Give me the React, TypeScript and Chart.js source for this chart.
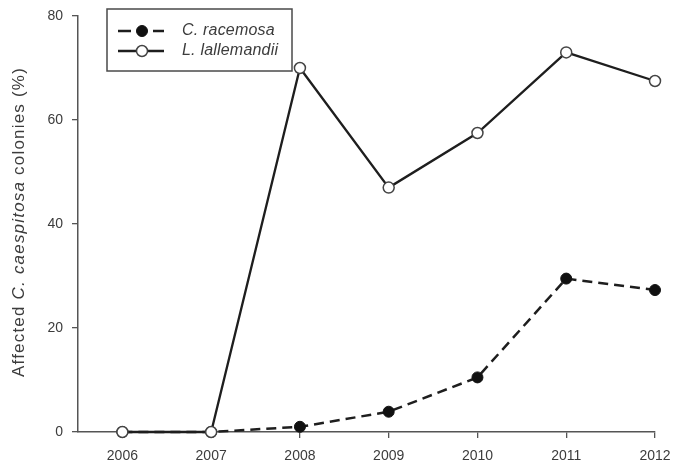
import React, { useEffect, useRef } from "react";
import { Chart, registerables } from "chart.js";

Chart.register(...registerables);

const years = [2006, 2007, 2008, 2009, 2010, 2011, 2012];
const racemosa = [0, 0, 1.0, 3.9, 10.5, 29.5, 27.3];
const lallemandii = [0, 0, 70, 47, 57.5, 73, 67.5];
const seriesNames = ["C. racemosa", "L. lallemandii"];
const yTicks = [0, 20, 40, 60, 80];
const yTitleParts = [
  { text: "Affected ", italic: false },
  { text: "C. caespitosa", italic: true },
  { text: " colonies (%)", italic: false },
];

const FONT = "'Liberation Sans', Arial, sans-serif";
const INK = "#1e1e1e";
const TEXT = "#3c3c3c";

const decorPlugin = {
  id: "decor",
  afterDraw(chart: any) {
    const ctx = chart.ctx;
    // y-axis title with mixed italic
    ctx.save();
    const cy = 222;
    ctx.translate(19, cy);
    ctx.rotate(-Math.PI / 2);
    ctx.fillStyle = TEXT;
    ctx.textBaseline = "middle";
    ctx.textAlign = "left";
    (ctx as any).letterSpacing = "1.2px";
    const fonts = yTitleParts.map((p) => (p.italic ? "italic " : "") + "17px " + FONT);
    let total = 0;
    yTitleParts.forEach((p, i) => {
      ctx.font = fonts[i];
      total += ctx.measureText(p.text).width;
    });
    let x = -total / 2;
    yTitleParts.forEach((p, i) => {
      ctx.font = fonts[i];
      ctx.fillText(p.text, x, 0);
      x += ctx.measureText(p.text).width;
    });
    ctx.restore();

    // legend box
    ctx.save();
    ctx.strokeStyle = "#4a4a4a";
    ctx.lineWidth = 1.5;
    ctx.strokeRect(107, 9, 185, 62);
    const rows = [31, 51];
    chart.data.datasets.forEach((ds: any, i: number) => {
      const y = rows[i];
      ctx.strokeStyle = ds.borderColor;
      ctx.lineWidth = ds.borderWidth;
      ctx.beginPath();
      if (ds.borderDash && ds.borderDash.length) {
        ctx.moveTo(118, y);
        ctx.lineTo(131, y);
        ctx.moveTo(153, y);
        ctx.lineTo(164, y);
      } else {
        ctx.moveTo(118, y);
        ctx.lineTo(164, y);
      }
      ctx.stroke();
      ctx.beginPath();
      ctx.arc(142, y, ds.pointRadius, 0, Math.PI * 2);
      ctx.fillStyle = ds.pointBackgroundColor;
      ctx.fill();
      ctx.lineWidth = ds.pointBorderWidth;
      ctx.strokeStyle = ds.pointBorderColor;
      ctx.stroke();
      ctx.fillStyle = TEXT;
      ctx.font = "italic 16px " + FONT;
      (ctx as any).letterSpacing = "0.2px";
      ctx.textBaseline = "middle";
      ctx.textAlign = "left";
      ctx.fillText(seriesNames[i], 182, y);
    });
    ctx.restore();
  },
};

export default function App() {
  const ref = useRef<HTMLCanvasElement>(null);
  useEffect(() => {
    if (!ref.current) return;
    const chart = new Chart(ref.current, {
      type: "line",
      data: {
        datasets: [
          {
            label: seriesNames[0],
            data: years.map((x, i) => ({ x, y: racemosa[i] })),
            borderColor: INK,
            borderWidth: 2.5,
            borderDash: [10, 6],
            pointRadius: 5.5,
            pointBackgroundColor: "#111",
            pointBorderColor: "#111",
            pointBorderWidth: 1,
            order: 1,
            clip: false,
          },
          {
            label: seriesNames[1],
            data: years.map((x, i) => ({ x, y: lallemandii[i] })),
            borderColor: INK,
            borderWidth: 2.3,
            pointRadius: 5.5,
            pointBackgroundColor: "#fff",
            pointBorderColor: "#444",
            pointBorderWidth: 1.5,
            order: 0,
            clip: false,
          },
        ],
      },
      options: {
        animation: false,
        responsive: false,
        maintainAspectRatio: false,
        layout: { autoPadding: false, padding: { left: 0, right: 20, top: 16, bottom: 0 } },
        plugins: { legend: { display: false }, tooltip: { enabled: false } },
        scales: {
          x: {
            type: "linear",
            min: 2005.5,
            max: 2012,
            afterBuildTicks: (scale: any) => {
              scale.ticks = years.map((v) => ({ value: v }));
            },
            afterFit: (scale: any) => {
              scale.height = 38;
              scale.paddingLeft = 0;
              scale.paddingRight = 0;
            },
            ticks: {
              color: TEXT,
              font: { family: FONT, size: 14 },
              padding: 10,
              maxRotation: 0,
              callback: (v: any) => String(v),
            },
            grid: {
              drawOnChartArea: false,
              drawTicks: true,
              tickLength: 6,
              color: "#555",
              lineWidth: 1.3,
            },
            border: { display: true, color: "#555", width: 1.5 },
          },
          y: {
            type: "linear",
            min: 0,
            max: 80,
            afterBuildTicks: (scale: any) => {
              scale.ticks = yTicks.map((v) => ({ value: v }));
            },
            afterFit: (scale: any) => {
              scale.width = 78;
              scale.paddingTop = 0;
              scale.paddingBottom = 0;
            },
            ticks: {
              color: TEXT,
              font: { family: FONT, size: 14 },
              padding: 9,
              callback: (v: any) => String(v),
            },
            grid: {
              drawOnChartArea: false,
              drawTicks: true,
              tickLength: 6,
              color: "#555",
              lineWidth: 1.3,
            },
            border: { display: true, color: "#555", width: 1.5 },
          },
        },
      },
      plugins: [decorPlugin],
    } as any);
    return () => chart.destroy();
  }, []);
  return (
    <div style={{ position: "fixed", left: 0, top: 0, width: 675, height: 470, background: "#fff" }}>
      <canvas ref={ref} width={675} height={470} style={{ width: 675, height: 470 }} />
    </div>
  );
}
